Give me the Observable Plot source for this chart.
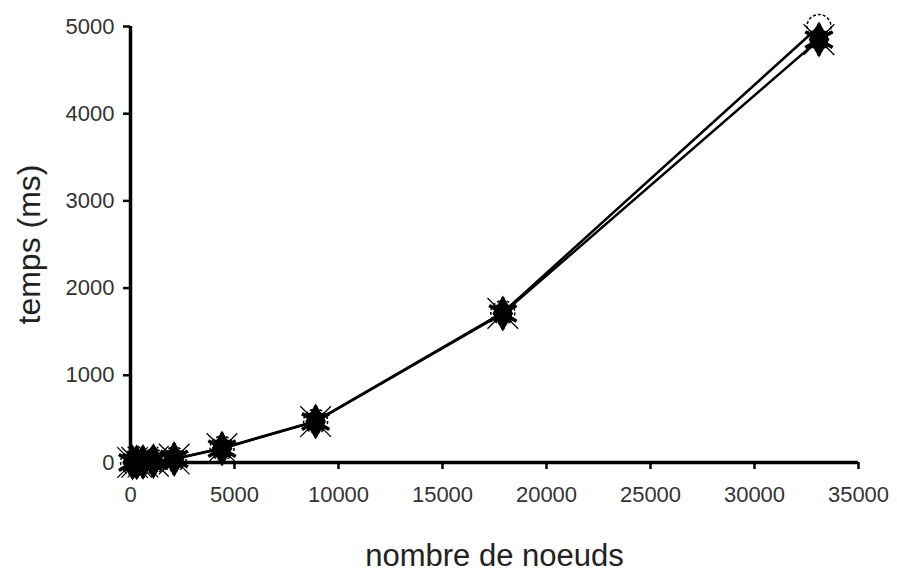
<!DOCTYPE html>
<html>
<head>
<meta charset="utf-8">
<script src="https://cdn.jsdelivr.net/npm/d3@7"></script>
<script src="https://cdn.jsdelivr.net/npm/@observablehq/plot@0.6"></script>
<style>
  html, body { margin: 0; padding: 0; background: #fff; }
  #chart { width: 897px; height: 574px; }
</style>
</head>
<body>
<div id="chart"></div>
<script>
// nombre de noeuds
const nodes = [100, 300, 600, 1100, 2100, 4400, 8900, 17900, 33100];
// temps (ms) – series A (open circle) and series B (star)
const timesA = [0, 2, 5, 15, 40, 165, 475, 1720, 5000];
const timesB = [0, 2, 5, 15, 40, 160, 470, 1710, 4850];
const xTicks = [0, 5000, 10000, 15000, 20000, 25000, 30000, 35000];
const yTicks = [0, 1000, 2000, 3000, 4000, 5000];

const dataA = nodes.map((n, i) => ({x: n, y: timesA[i]}));
const dataB = nodes.map((n, i) => ({x: n, y: timesB[i]}));

const chart = Plot.plot({
  width: 897,
  height: 574,
  marginLeft: 130,
  marginRight: 39,
  marginTop: 26,
  marginBottom: 112,
  style: {fontFamily: "'Liberation Sans', Arial, sans-serif", fontSize: "22px", color: "#333", background: "#fff"},
  x: {domain: [0, 35000]},
  y: {domain: [0, 5000]},
  marks: [
    Plot.axisX(xTicks, {tickFormat: "d", tickSize: 7, tickPadding: 17, fontSize: 22, stroke: "#000", strokeWidth: 2.5, label: null}),
    Plot.axisX({ticks: [], tickSize: 0, label: "nombre de noeuds", labelAnchor: "center", labelArrow: "none", labelOffset: 103, fontSize: 31, fill: "#222"}),
    Plot.axisY(yTicks, {tickFormat: "d", tickSize: 7, tickPadding: 9, fontSize: 22, stroke: "#000", strokeWidth: 2.5, label: null}),
    Plot.axisY({ticks: [], tickSize: 0, label: "temps (ms)", labelAnchor: "center", labelArrow: "none", labelOffset: 113, fontSize: 32, fill: "#222"}),
    Plot.ruleX([0], {stroke: "#000", strokeWidth: 3.5}),
    Plot.ruleY([0], {stroke: "#000", strokeWidth: 3.5}),
    Plot.line(dataA, {x: "x", y: "y", stroke: "#000", strokeWidth: 2.5}),
    Plot.line(dataB, {x: "x", y: "y", stroke: "#000", strokeWidth: 2.5}),
    Plot.dot(dataA, {x: "x", y: "y", symbol: "circle", r: 12, stroke: "#000", strokeWidth: 1.5, strokeDasharray: "3,2", fill: "none"}),
    Plot.dot(dataB, {x: "x", y: "y", symbol: "times", r: 14, stroke: "#000", strokeWidth: 1.3}),
    Plot.dot(dataB, {x: "x", y: "y", symbol: "asterisk", r: 15, stroke: "#000", strokeWidth: 3.5}),
    Plot.dot(dataB, {x: "x", y: "y", symbol: "square", r: 9, fill: "#000", stroke: "#000"}),
    Plot.dot(dataB, {x: "x", y: "y", symbol: "diamond", r: 10, fill: "#000", stroke: "#000"})
  ]
});
document.getElementById("chart").appendChild(chart);
</script>
</body>
</html>
